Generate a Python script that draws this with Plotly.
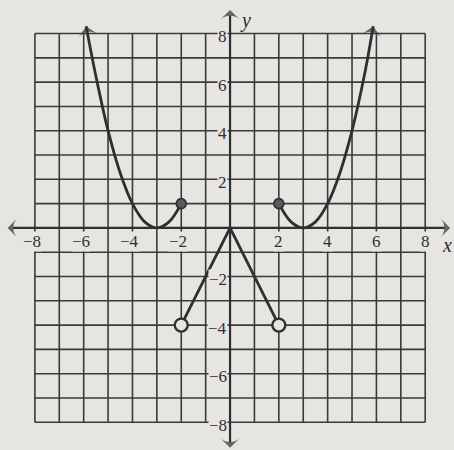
import plotly.graph_objects as go

PAPER = "#e7e5e2"
INK = "#2f2f2f"
GRID_INK = "#3a3a3a"

# grid and tick values
grid_vals = list(range(-8, 9))
x_tick_vals = [-8, -6, -4, -2, 2, 4, 6, 8]
y_tick_vals = [8, 6, 4, 2, -2, -4, -6, -8]

# left parabola, from the closed dot up to the arrow tip
left_x = [-2.0, -2.5, -3.0, -3.5, -4.0, -4.5, -5.0, -5.5, -5.9]
left_y = [1.0, 0.25, 0.0, 0.25, 1.0, 2.25, 4.0, 6.25, 8.3]

# right parabola, from the closed dot up to the arrow tip
right_x = [2.0, 2.5, 3.0, 3.5, 4.0, 4.5, 5.0, 5.5, 5.87]
right_y = [1.0, 0.25, 0.0, 0.25, 1.0, 2.25, 4.0, 6.25, 8.3]

# middle V piece
v_x = [-2, 0, 2]
v_y = [-4, 0, -4]

closed_x = [-2, 2]
closed_y = [1, 1]
open_x = [-2, 2]
open_y = [-4, -4]

# axis ends (arrow tips)
x_axis_ends = [-9.12, 9.02]
y_axis_ends = [8.97, -9.05]

fig = go.Figure()

# grid
for g in grid_vals:
    fig.add_shape(type="line", x0=g, x1=g, y0=-8, y1=8, xref="x", yref="y",
                  line=dict(color=GRID_INK, width=1.6), layer="below")
    fig.add_shape(type="line", x0=-8, x1=8, y0=g, y1=g, xref="x", yref="y",
                  line=dict(color=GRID_INK, width=1.6), layer="below")

arrow = dict(symbol="arrow-wide", angleref="previous", color=INK, size=[0, 14],
             line=dict(width=0))

# axes with arrowheads, drawn outward from the origin
for end in x_axis_ends:
    fig.add_trace(go.Scatter(x=[0, end], y=[0, 0], mode="lines+markers",
                             line=dict(color=INK, width=2.2), marker=arrow,
                             hoverinfo="skip", showlegend=False))
for end in y_axis_ends:
    fig.add_trace(go.Scatter(x=[0, 0], y=[0, end], mode="lines+markers",
                             line=dict(color=INK, width=2.2), marker=arrow,
                             hoverinfo="skip", showlegend=False))

# parabolas
for xs, ys in [(left_x, left_y), (right_x, right_y)]:
    fig.add_trace(go.Scatter(
        x=xs, y=ys, mode="lines+markers",
        line=dict(color=INK, width=2.8, shape="spline", smoothing=1.0),
        marker=dict(symbol="arrow-wide", angleref="previous", color=INK,
                    size=[0] * (len(xs) - 1) + [14], line=dict(width=0)),
        hoverinfo="skip", showlegend=False))

fig.add_trace(go.Scatter(x=v_x, y=v_y, mode="lines",
                         line=dict(color=INK, width=2.8),
                         hoverinfo="skip", showlegend=False))

fig.add_trace(go.Scatter(x=closed_x, y=closed_y, mode="markers",
                         marker=dict(size=10, color="#5a5a5a",
                                     line=dict(color=INK, width=1.6)),
                         hoverinfo="skip", showlegend=False))
fig.add_trace(go.Scatter(x=open_x, y=open_y, mode="markers",
                         marker=dict(size=13, color=PAPER,
                                     line=dict(color=INK, width=2.4)),
                         hoverinfo="skip", showlegend=False))

SERIF = "Times New Roman, Liberation Serif, serif"
label_font = dict(family=SERIF, size=17, color=INK)

for v in x_tick_vals:
    text = str(v) if v > 0 else "\u2212" + str(-v)
    fig.add_annotation(x=v, y=0, text=text, showarrow=False, font=label_font,
                       xanchor="center", yanchor="middle", yshift=-14,
                       xshift=-3 if v < 0 else 0, bgcolor=PAPER, borderpad=0)

for v in y_tick_vals:
    text = str(v) if v > 0 else "\u2212" + str(-v)
    fig.add_annotation(x=0, y=v, text=text, showarrow=False, font=label_font,
                       xanchor="right", yanchor="middle", xshift=-2, yshift=-3,
                       bgcolor=PAPER, borderpad=0)

fig.add_annotation(x=9.0, y=0, text="<i>x</i>", showarrow=False,
                   font=dict(family=SERIF, size=20, color=INK),
                   xanchor="center", yanchor="middle", yshift=-17, xshift=-3)
fig.add_annotation(x=0, y=8.95, text="<i>y</i>", showarrow=False,
                   font=dict(family=SERIF, size=20, color=INK),
                   xanchor="left", yanchor="middle", xshift=8, yshift=-10)

fig.update_layout(
    width=454, height=450,
    margin=dict(l=0, r=0, t=0, b=0),
    paper_bgcolor=PAPER, plot_bgcolor=PAPER,
    showlegend=False,
)
fig.update_xaxes(range=[-9.43, 9.18], visible=False, fixedrange=True)
fig.update_yaxes(range=[-9.14, 9.38], visible=False, fixedrange=True)

fig.write_html(
    "out.html",
    config={"displayModeBar": False, "staticPlot": True},
    post_script=f"document.body.style.margin='0';document.body.style.background='{PAPER}';",
)
